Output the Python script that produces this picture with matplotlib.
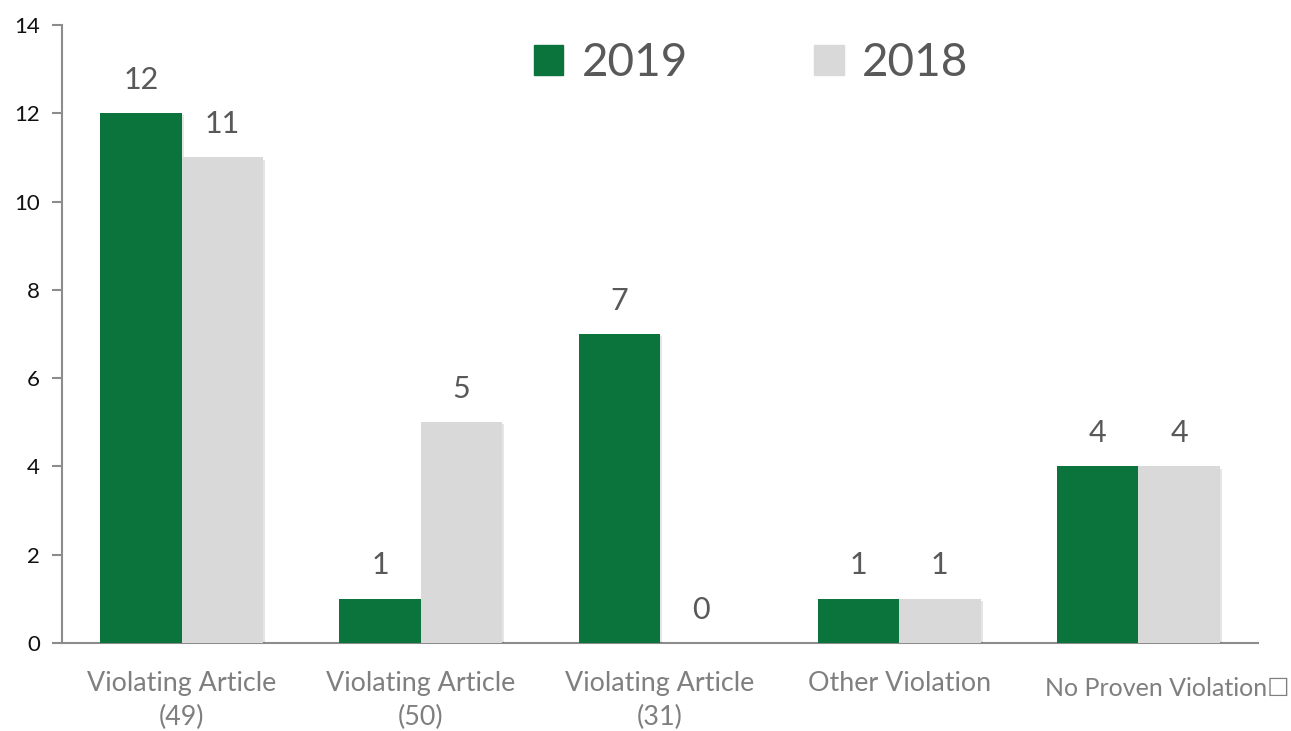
import matplotlib
matplotlib.use("Agg")
import matplotlib.pyplot as plt
import matplotlib.patheffects as pe
from matplotlib.patches import Patch
import numpy as np

categories = ["Violating Article\n(49)", "Violating Article\n(50)", "Violating Article\n(31)",
              "Other Violation", "No Proven Violation\u2610"]
series_names = ["2019", "2018"]
values_2019 = [12, 1, 7, 1, 4]
values_2018 = [11, 5, 0, 1, 4]
yticks = [0, 2, 4, 6, 8, 10, 12, 14]

green = "#0a743c"
grey = "#d9d9d9"
label_col = "#595959"
axis_col = "#8c8c8c"

plt.rcParams['font.family'] = ['Lato', 'DejaVu Sans']

fig = plt.figure(figsize=(12.91, 7.31), dpi=100)
ax = fig.add_axes([62/1291, 88/731, (1258-62)/1291, (643-25)/731])

x = np.arange(len(categories))
w = 0.34
shadow = [pe.SimplePatchShadow(offset=(1.5, -1.5), alpha=0.1, shadow_rgbFace="#000000"), pe.Normal()]
b1 = ax.bar(x - w/2, values_2019, w, color=green, path_effects=shadow, zorder=3)
b2 = ax.bar(x + w/2, values_2018, w, color=grey, path_effects=shadow, zorder=3)

for bars in (b1, b2):
    for r in bars:
        h = r.get_height()
        ax.annotate(f"{int(h)}", (r.get_x() + r.get_width()/2, h), xytext=(0, 14),
                    textcoords="offset points", ha="center", va="bottom",
                    fontsize=22, color=label_col)

ax.set_xlim(-0.5, len(categories) - 0.5)
ax.set_ylim(0, 14)
ax.set_yticks(yticks)
ax.tick_params(axis='y', direction='out', length=7, width=1.5, color=axis_col,
               labelsize=16, labelcolor="#111111", pad=9)
ax.set_xticks(x[:4])
ax.set_xticklabels(categories[:4], fontsize=19.4, color="#7f7f7f", linespacing=1.45)
ax.tick_params(axis='x', length=0, pad=20)
ax.text(4.12, -0.76, categories[4], ha="center", va="top", fontsize=18,
        color="#7f7f7f", family=['Lato', 'DejaVu Sans'])

for s in ("top", "right"):
    ax.spines[s].set_visible(False)
for s in ("left", "bottom"):
    ax.spines[s].set_color(axis_col)
    ax.spines[s].set_linewidth(1.5)

handles = [Patch(color=green), Patch(color=grey)]
fig.legend(handles, series_names, loc="center", bbox_to_anchor=(751/1291, 1 - 63/731),
           ncol=2, frameon=False, fontsize=33, labelcolor=label_col,
           handlelength=0.65, handleheight=0.65, handletextpad=0.4, columnspacing=2.75)

fig.savefig("out.png", dpi=100)
